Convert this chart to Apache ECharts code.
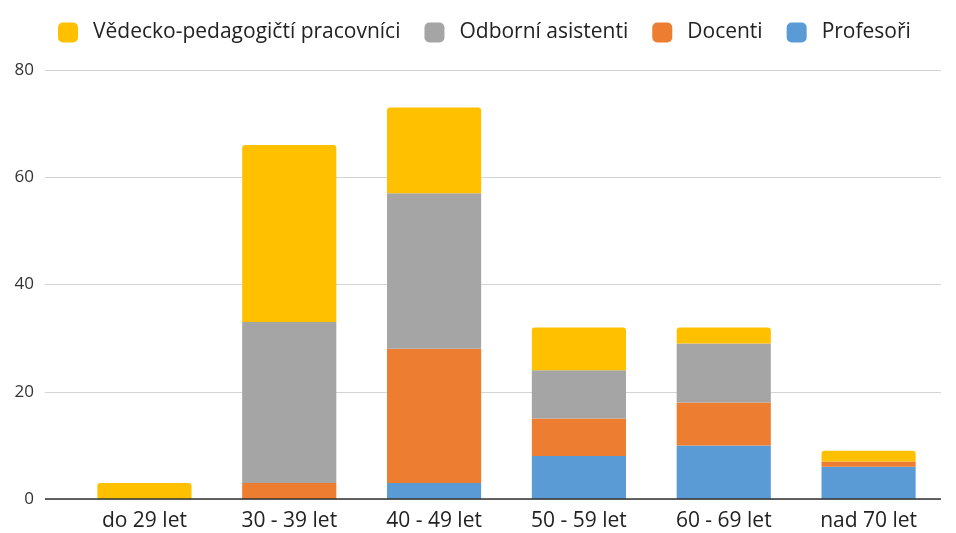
<!DOCTYPE html>
<html>
<head>
<meta charset="utf-8">
<script src="https://cdn.jsdelivr.net/npm/echarts@6/dist/echarts.min.js"></script>
<style>html,body{margin:0;padding:0;background:#fff;}</style>
</head>
<body>
<div id="chart" style="width:956px;height:533px;"></div>
<script>
var categories = ['do 29 let', '30 - 39 let', '40 - 49 let', '50 - 59 let', '60 - 69 let', 'nad 70 let'];
var profesori = [0, 0, 3, 8, 10, 6];
var docenti = [0, 3, 25, 7, 8, 1];
var asistenti = [0, 30, 29, 9, 11, 0];
var vedecko = [3, 33, 16, 8, 3, 2];
var legendOrder = ['Vědecko-pedagogičtí pracovníci', 'Odborní asistenti', 'Docenti', 'Profesoři'];

var font = 'Open Sans';
var chart = echarts.init(document.getElementById('chart'));
function bar(name, data, color, top) {
  return {
    name: name, type: 'bar', stack: 'a', data: data,
    xAxisIndex: 0, yAxisIndex: 0,
    barCategoryGap: '35%',
    itemStyle: { color: color, borderRadius: top ? [3, 3, 0, 0] : 0 }
  };
}
chart.setOption({
  animation: false,
  textStyle: { fontFamily: font },
  legend: {
    data: legendOrder,
    top: 17, left: 53,
    itemWidth: 20, itemHeight: 20, itemGap: 24,
    icon: 'roundRect',
    textStyle: { fontSize: 21, color: '#222', fontFamily: font, padding: [0, 0, 0, 10] }
  },
  grid: [
    { left: 72, right: 15, top: 70, bottom: 34 },
    { left: 45, right: 15, top: 70, bottom: 34 }
  ],
  xAxis: [
    {
      type: 'category', data: categories, gridIndex: 0,
      axisTick: { show: false },
      axisLine: { show: false },
      axisLabel: { fontSize: 21, color: '#222', margin: 12, fontFamily: font }
    },
    { type: 'category', gridIndex: 1, data: categories, show: false }
  ],
  yAxis: [
    { type: 'value', gridIndex: 0, min: 0, max: 80, interval: 20, show: false },
    {
      type: 'value', gridIndex: 1, min: 0, max: 80, interval: 20,
      axisLine: { show: false }, axisTick: { show: false },
      axisLabel: { fontSize: 17, color: '#333', margin: 11, fontFamily: font },
      splitLine: { lineStyle: { color: '#d4d4d4', width: 1 } }
    }
  ],
  series: [
    bar('Profesoři', profesori, '#5B9BD5', false),
    bar('Docenti', docenti, '#ED7D31', false),
    bar('Odborní asistenti', asistenti, '#A5A5A5', false),
    bar('Vědecko-pedagogičtí pracovníci', vedecko, '#FFC000', true),
    {
      type: 'line', xAxisIndex: 1, yAxisIndex: 1, data: [],
      markLine: {
        silent: true, symbol: 'none', label: { show: false },
        lineStyle: { color: '#333', type: 'solid', width: 1.5 },
        data: [{ yAxis: 0 }]
      }
    }
  ]
});
</script>
</body>
</html>
